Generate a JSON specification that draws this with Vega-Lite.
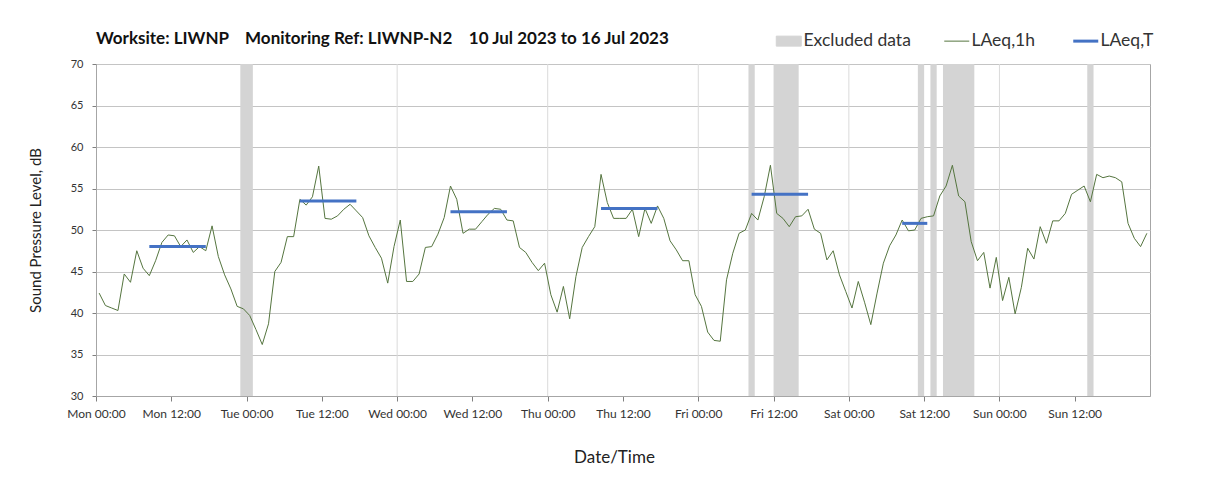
{
  "$schema": "https://vega.github.io/schema/vega-lite/v6.json",
  "width": 1054,
  "height": 332,
  "autosize": {"type": "none"},
  "padding": {"left": 96, "top": 64, "right": 58, "bottom": 96},
  "background": "white",
  "config": {
    "font": "Lato",
    "view": {"stroke": "#a6a6a6", "strokeWidth": 1}
  },
  "title": {
    "text": "Worksite: LIWNP\u00a0\u00a0\u00a0 Monitoring Ref: LIWNP-N2\u00a0\u00a0\u00a0 10 Jul 2023 to 16 Jul 2023",
    "anchor": "start",
    "frame": "group",
    "offset": -16,
    "font": "Lato",
    "fontSize": 17,
    "fontWeight": "bold",
    "color": "#111111"
  },
  "layer": [
    {
      "data": {"values": [
        {"t": "2023-07-11T00:00"}, {"t": "2023-07-12T00:00"}, {"t": "2023-07-13T00:00"},
        {"t": "2023-07-14T00:00"}, {"t": "2023-07-15T00:00"}, {"t": "2023-07-16T00:00"}
      ]},
      "mark": {"type": "rule", "color": "#dadada", "strokeWidth": 1},
      "encoding": {
        "x": {"field": "t", "type": "temporal", "scale": {"domain": [{"year": 2023, "month": 7, "date": 10}, {"year": 2023, "month": 7, "date": 17}]}}
      }
    },
    {
      "data": {"values": [
        {"start": "2023-07-10T23:00", "end": "2023-07-11T01:00"},
        {"start": "2023-07-14T08:00", "end": "2023-07-14T09:00"},
        {"start": "2023-07-14T12:00", "end": "2023-07-14T16:00"},
        {"start": "2023-07-15T11:00", "end": "2023-07-15T12:00"},
        {"start": "2023-07-15T13:00", "end": "2023-07-15T14:00"},
        {"start": "2023-07-15T15:00", "end": "2023-07-15T20:00"},
        {"start": "2023-07-16T14:00", "end": "2023-07-16T15:00"}
      ]},
      "mark": {"type": "rect"},
      "encoding": {
        "x": {
          "field": "start", "type": "temporal",
          "scale": {"domain": [{"year": 2023, "month": 7, "date": 10}, {"year": 2023, "month": 7, "date": 17}]},
          "axis": {
            "title": "Date/Time",
            "format": "%a %H:%M",
            "values": [
              {"year": 2023, "month": 7, "date": 10, "hours": 0}, {"year": 2023, "month": 7, "date": 10, "hours": 12},
              {"year": 2023, "month": 7, "date": 11, "hours": 0}, {"year": 2023, "month": 7, "date": 11, "hours": 12},
              {"year": 2023, "month": 7, "date": 12, "hours": 0}, {"year": 2023, "month": 7, "date": 12, "hours": 12},
              {"year": 2023, "month": 7, "date": 13, "hours": 0}, {"year": 2023, "month": 7, "date": 13, "hours": 12},
              {"year": 2023, "month": 7, "date": 14, "hours": 0}, {"year": 2023, "month": 7, "date": 14, "hours": 12},
              {"year": 2023, "month": 7, "date": 15, "hours": 0}, {"year": 2023, "month": 7, "date": 15, "hours": 12},
              {"year": 2023, "month": 7, "date": 16, "hours": 0}, {"year": 2023, "month": 7, "date": 16, "hours": 12}
            ],
            "grid": false,
            "domainColor": "#a6a6a6",
            "tickColor": "#7f7f7f",
            "tickSize": 5,
            "labelFontSize": 12,
            "labelColor": "#333333",
            "labelPadding": 7,
            "labelFlush": false,
            "labelOverlap": false,
            "titleFontSize": 17,
            "titleFontWeight": "normal",
            "titleColor": "#222222",
            "titlePadding": 30,
            "titleX": 518
          }
        },
        "x2": {"field": "end"},
        "color": {
          "datum": "Excluded data",
          "type": "nominal",
          "scale": {"domain": ["Excluded data", "LAeq,1h", "LAeq,T"], "range": ["#d4d4d4", "#55753f", "#4472c4"]},
          "legend": {
            "title": null,
            "orient": "none",
            "legendX": 684,
            "legendY": -32,
            "direction": "horizontal",
            "labelFontSize": 17.5,
            "labelColor": "#333333",
            "labelOffset": 6,
            "columnPadding": 31,
            "symbolSize": 625,
            "encode": {
              "symbols": {
                "update": {
                  "shape": {"signal": "datum.value === 'Excluded data' ? 'M-1,-0.4H1V0.4H-1Z' : 'stroke'"},
                  "fill": {"signal": "datum.value === 'Excluded data' ? '#d4d4d4' : 'transparent'"},
                  "stroke": {"signal": "datum.value === 'Excluded data' ? 'transparent' : (datum.value === 'LAeq,T' ? '#4472c4' : '#55753f')"},
                  "strokeWidth": {"signal": "datum.value === 'LAeq,T' ? 3 : 1"}
                }
              }
            }
          }
        }
      }
    },
    {
      "data": {"values": [
        {"t": "2023-07-10T00:30", "v": 42.4}, {"t": "2023-07-10T01:30", "v": 40.9}, {"t": "2023-07-10T02:30", "v": 40.6}, {"t": "2023-07-10T03:30", "v": 40.3},
        {"t": "2023-07-10T04:30", "v": 44.7}, {"t": "2023-07-10T05:30", "v": 43.7}, {"t": "2023-07-10T06:30", "v": 47.5}, {"t": "2023-07-10T07:30", "v": 45.4},
        {"t": "2023-07-10T08:30", "v": 44.5}, {"t": "2023-07-10T09:30", "v": 46.3}, {"t": "2023-07-10T10:30", "v": 48.5}, {"t": "2023-07-10T11:30", "v": 49.4},
        {"t": "2023-07-10T12:30", "v": 49.3}, {"t": "2023-07-10T13:30", "v": 48.0}, {"t": "2023-07-10T14:30", "v": 48.8}, {"t": "2023-07-10T15:30", "v": 47.3},
        {"t": "2023-07-10T16:30", "v": 48.0}, {"t": "2023-07-10T17:30", "v": 47.5}, {"t": "2023-07-10T18:30", "v": 50.5}, {"t": "2023-07-10T19:30", "v": 46.8},
        {"t": "2023-07-10T20:30", "v": 44.6}, {"t": "2023-07-10T21:30", "v": 42.9}, {"t": "2023-07-10T22:30", "v": 40.8}, {"t": "2023-07-10T23:30", "v": 40.5},
        {"t": "2023-07-11T00:30", "v": 39.7}, {"t": "2023-07-11T01:30", "v": 38.0}, {"t": "2023-07-11T02:30", "v": 36.2}, {"t": "2023-07-11T03:30", "v": 38.7},
        {"t": "2023-07-11T04:30", "v": 45.0}, {"t": "2023-07-11T05:30", "v": 46.1}, {"t": "2023-07-11T06:30", "v": 49.2}, {"t": "2023-07-11T07:30", "v": 49.2},
        {"t": "2023-07-11T08:30", "v": 53.7}, {"t": "2023-07-11T09:30", "v": 53.0}, {"t": "2023-07-11T10:30", "v": 54.0}, {"t": "2023-07-11T11:30", "v": 57.7},
        {"t": "2023-07-11T12:30", "v": 51.4}, {"t": "2023-07-11T13:30", "v": 51.3}, {"t": "2023-07-11T14:30", "v": 51.7}, {"t": "2023-07-11T15:30", "v": 52.5},
        {"t": "2023-07-11T16:30", "v": 53.1}, {"t": "2023-07-11T17:30", "v": 52.3}, {"t": "2023-07-11T18:30", "v": 51.5}, {"t": "2023-07-11T19:30", "v": 49.3},
        {"t": "2023-07-11T20:30", "v": 47.9}, {"t": "2023-07-11T21:30", "v": 46.6}, {"t": "2023-07-11T22:30", "v": 43.6}, {"t": "2023-07-11T23:30", "v": 48.0},
        {"t": "2023-07-12T00:30", "v": 51.2}, {"t": "2023-07-12T01:30", "v": 43.8}, {"t": "2023-07-12T02:30", "v": 43.8}, {"t": "2023-07-12T03:30", "v": 44.7},
        {"t": "2023-07-12T04:30", "v": 47.9}, {"t": "2023-07-12T05:30", "v": 48.0}, {"t": "2023-07-12T06:30", "v": 49.5}, {"t": "2023-07-12T07:30", "v": 51.5},
        {"t": "2023-07-12T08:30", "v": 55.3}, {"t": "2023-07-12T09:30", "v": 53.7}, {"t": "2023-07-12T10:30", "v": 49.6}, {"t": "2023-07-12T11:30", "v": 50.1},
        {"t": "2023-07-12T12:30", "v": 50.1}, {"t": "2023-07-12T13:30", "v": 51.0}, {"t": "2023-07-12T14:30", "v": 51.9}, {"t": "2023-07-12T15:30", "v": 52.6},
        {"t": "2023-07-12T16:30", "v": 52.5}, {"t": "2023-07-12T17:30", "v": 51.2}, {"t": "2023-07-12T18:30", "v": 51.1}, {"t": "2023-07-12T19:30", "v": 47.9},
        {"t": "2023-07-12T20:30", "v": 47.3}, {"t": "2023-07-12T21:30", "v": 46.1}, {"t": "2023-07-12T22:30", "v": 45.1}, {"t": "2023-07-12T23:30", "v": 46.0},
        {"t": "2023-07-13T00:30", "v": 42.2}, {"t": "2023-07-13T01:30", "v": 40.1}, {"t": "2023-07-13T02:30", "v": 43.2}, {"t": "2023-07-13T03:30", "v": 39.3},
        {"t": "2023-07-13T04:30", "v": 44.4}, {"t": "2023-07-13T05:30", "v": 47.9}, {"t": "2023-07-13T06:30", "v": 49.2}, {"t": "2023-07-13T07:30", "v": 50.4},
        {"t": "2023-07-13T08:30", "v": 56.7}, {"t": "2023-07-13T09:30", "v": 53.3}, {"t": "2023-07-13T10:30", "v": 51.4}, {"t": "2023-07-13T11:30", "v": 51.4},
        {"t": "2023-07-13T12:30", "v": 51.4}, {"t": "2023-07-13T13:30", "v": 52.5}, {"t": "2023-07-13T14:30", "v": 49.2}, {"t": "2023-07-13T15:30", "v": 52.6},
        {"t": "2023-07-13T16:30", "v": 50.8}, {"t": "2023-07-13T17:30", "v": 52.9}, {"t": "2023-07-13T18:30", "v": 51.4}, {"t": "2023-07-13T19:30", "v": 48.7},
        {"t": "2023-07-13T20:30", "v": 47.6}, {"t": "2023-07-13T21:30", "v": 46.3}, {"t": "2023-07-13T22:30", "v": 46.3}, {"t": "2023-07-13T23:30", "v": 42.2},
        {"t": "2023-07-14T00:30", "v": 40.8}, {"t": "2023-07-14T01:30", "v": 37.7}, {"t": "2023-07-14T02:30", "v": 36.7}, {"t": "2023-07-14T03:30", "v": 36.6},
        {"t": "2023-07-14T04:30", "v": 44.0}, {"t": "2023-07-14T05:30", "v": 47.2}, {"t": "2023-07-14T06:30", "v": 49.6}, {"t": "2023-07-14T07:30", "v": 50.0},
        {"t": "2023-07-14T08:30", "v": 52.0}, {"t": "2023-07-14T09:30", "v": 51.2}, {"t": "2023-07-14T10:30", "v": 54.0}, {"t": "2023-07-14T11:30", "v": 57.8},
        {"t": "2023-07-14T12:30", "v": 52.0}, {"t": "2023-07-14T13:30", "v": 51.4}, {"t": "2023-07-14T14:30", "v": 50.4}, {"t": "2023-07-14T15:30", "v": 51.6},
        {"t": "2023-07-14T16:30", "v": 51.7}, {"t": "2023-07-14T17:30", "v": 52.5}, {"t": "2023-07-14T18:30", "v": 50.1}, {"t": "2023-07-14T19:30", "v": 49.6},
        {"t": "2023-07-14T20:30", "v": 46.4}, {"t": "2023-07-14T21:30", "v": 47.5}, {"t": "2023-07-14T22:30", "v": 44.6}, {"t": "2023-07-14T23:30", "v": 42.6},
        {"t": "2023-07-15T00:30", "v": 40.6}, {"t": "2023-07-15T01:30", "v": 43.8}, {"t": "2023-07-15T02:30", "v": 41.3}, {"t": "2023-07-15T03:30", "v": 38.6},
        {"t": "2023-07-15T04:30", "v": 42.4}, {"t": "2023-07-15T05:30", "v": 46.0}, {"t": "2023-07-15T06:30", "v": 48.1}, {"t": "2023-07-15T07:30", "v": 49.4},
        {"t": "2023-07-15T08:30", "v": 51.2}, {"t": "2023-07-15T09:30", "v": 49.9}, {"t": "2023-07-15T10:30", "v": 50.0}, {"t": "2023-07-15T11:30", "v": 51.4},
        {"t": "2023-07-15T12:30", "v": 51.6}, {"t": "2023-07-15T13:30", "v": 51.7}, {"t": "2023-07-15T14:30", "v": 54.1}, {"t": "2023-07-15T15:30", "v": 55.3},
        {"t": "2023-07-15T16:30", "v": 57.8}, {"t": "2023-07-15T17:30", "v": 54.1}, {"t": "2023-07-15T18:30", "v": 53.4}, {"t": "2023-07-15T19:30", "v": 48.6},
        {"t": "2023-07-15T20:30", "v": 46.3}, {"t": "2023-07-15T21:30", "v": 47.3}, {"t": "2023-07-15T22:30", "v": 43.0}, {"t": "2023-07-15T23:30", "v": 46.7},
        {"t": "2023-07-16T00:30", "v": 41.5}, {"t": "2023-07-16T01:30", "v": 44.3}, {"t": "2023-07-16T02:30", "v": 39.9}, {"t": "2023-07-16T03:30", "v": 43.1},
        {"t": "2023-07-16T04:30", "v": 47.8}, {"t": "2023-07-16T05:30", "v": 46.5}, {"t": "2023-07-16T06:30", "v": 50.4}, {"t": "2023-07-16T07:30", "v": 48.4},
        {"t": "2023-07-16T08:30", "v": 51.1}, {"t": "2023-07-16T09:30", "v": 51.1}, {"t": "2023-07-16T10:30", "v": 52.0}, {"t": "2023-07-16T11:30", "v": 54.3},
        {"t": "2023-07-16T12:30", "v": 54.8}, {"t": "2023-07-16T13:30", "v": 55.3}, {"t": "2023-07-16T14:30", "v": 53.4}, {"t": "2023-07-16T15:30", "v": 56.7},
        {"t": "2023-07-16T16:30", "v": 56.3}, {"t": "2023-07-16T17:30", "v": 56.5}, {"t": "2023-07-16T18:30", "v": 56.3}, {"t": "2023-07-16T19:30", "v": 55.8},
        {"t": "2023-07-16T20:30", "v": 50.8}, {"t": "2023-07-16T21:30", "v": 49.0}, {"t": "2023-07-16T22:30", "v": 48.0}, {"t": "2023-07-16T23:30", "v": 49.6}
      ]},
      "mark": {"type": "line", "strokeWidth": 1},
      "encoding": {
        "x": {"field": "t", "type": "temporal", "scale": {"domain": [{"year": 2023, "month": 7, "date": 10}, {"year": 2023, "month": 7, "date": 17}]}},
        "y": {
          "field": "v", "type": "quantitative",
          "scale": {"domain": [30, 70], "nice": false, "zero": false},
          "axis": {
            "title": "Sound Pressure Level, dB",
            "values": [30, 35, 40, 45, 50, 55, 60, 65, 70],
            "gridColor": "#c4c4c4",
            "domainColor": "#a6a6a6",
            "tickColor": "#7f7f7f",
            "tickSize": 4,
            "labelPadding": 9,
            "labelFontSize": 11,
            "labelColor": "#333333",
            "titleFontSize": 15,
            "titleFontWeight": "normal",
            "titleColor": "#222222",
            "titlePadding": 27
          }
        },
        "color": {"datum": "LAeq,1h", "type": "nominal"}
      }
    },
    {
      "data": {"values": [
        {"start": "2023-07-10T08:30", "end": "2023-07-10T17:30", "level": 48.0},
        {"start": "2023-07-11T08:30", "end": "2023-07-11T17:30", "level": 53.5},
        {"start": "2023-07-12T08:30", "end": "2023-07-12T17:30", "level": 52.2},
        {"start": "2023-07-13T08:30", "end": "2023-07-13T17:30", "level": 52.6},
        {"start": "2023-07-14T08:30", "end": "2023-07-14T17:30", "level": 54.3},
        {"start": "2023-07-15T08:30", "end": "2023-07-15T12:30", "level": 50.8}
      ]},
      "mark": {"type": "rule", "strokeWidth": 3},
      "encoding": {
        "x": {"field": "start", "type": "temporal", "scale": {"domain": [{"year": 2023, "month": 7, "date": 10}, {"year": 2023, "month": 7, "date": 17}]}},
        "x2": {"field": "end"},
        "y": {"field": "level", "type": "quantitative"},
        "color": {"datum": "LAeq,T", "type": "nominal"}
      }
    }
  ]
}
